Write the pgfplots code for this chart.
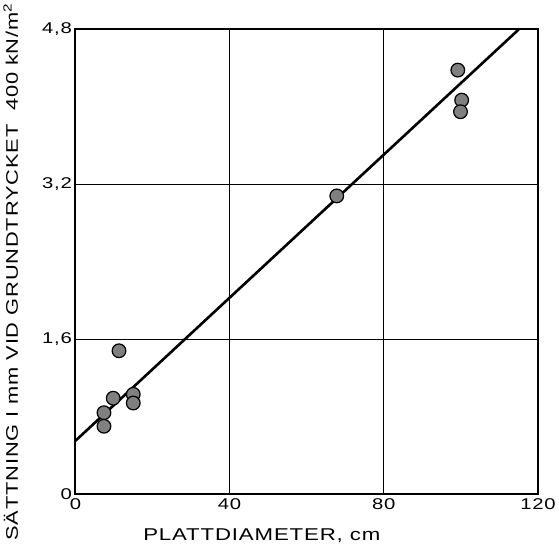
\documentclass[border=0pt]{standalone}
\usepackage{pgfplots}
\pgfplotsset{compat=1.18}
\usepackage{fontspec}
\setmainfont{Liberation Sans}[FakeStretch=1.3, LetterSpace=5]
\begin{document}
\begin{tikzpicture}
\begin{axis}[
  scale only axis,
  width=460pt, height=462pt,
  xmin=0, xmax=120, ymin=0, ymax=4.8,
  xtick={0,40,80,120}, ytick={0,1.6,3.2,4.8},
  /pgf/number format/use comma,
  /pgf/number format/assume math mode=true,
  grid=major,
  major grid style={black, line width=0.7pt},
  axis line style={black, line width=2pt},
  tick style={draw=none},
  tick label style={font=\fontsize{15.5}{18}\selectfont},
  xlabel={PLATTDIAMETER, cm},
  ylabel={SÄTTNING I mm VID GRUNDTRYCKET\ \ 400 kN/m\textsuperscript{2}},
  xlabel style={font=\fontsize{17}{20}\selectfont, at={(axis description cs:0.403,-0.089)}, anchor=center},
  ylabel style={font=\fontsize{16.7}{20}\selectfont, at={(axis description cs:-0.140,0.478)}, anchor=center},
  xticklabel style={yshift=-1pt},
  clip=false,
]
\addplot[black, line width=2.6pt] coordinates {(0,0.55) (115,4.8)};
\addplot[only marks, mark=*, mark size=6.8pt,
  mark options={fill=black!50, draw=black, line width=1.2pt}] coordinates {
  (11.3,1.48) (9.8,0.99) (15,1.03) (15,0.94)
  (7.4,0.84) (7.4,0.70)
  (67.8,3.08)
  (99.2,4.38) (100.2,4.07) (99.9,3.95)
};
\end{axis}
\end{tikzpicture}
\end{document}
